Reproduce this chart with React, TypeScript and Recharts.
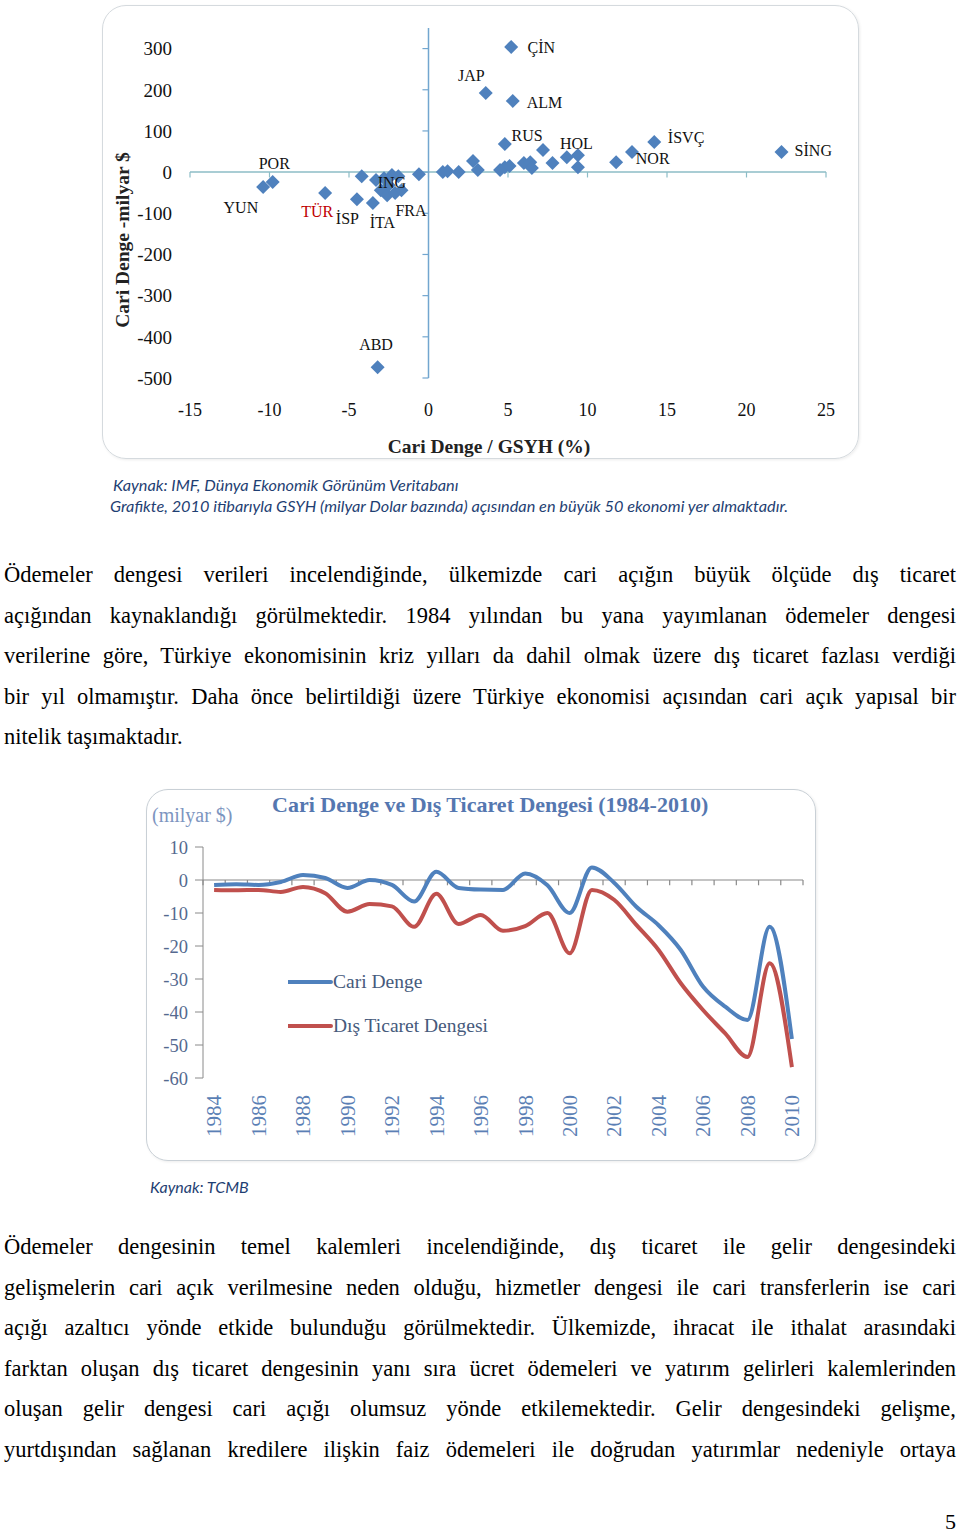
import React from "react";
import {
  ScatterChart,
  Scatter,
  XAxis,
  YAxis,
  ReferenceLine,
  ReferenceDot,
  Label,
  LineChart,
  Line,
  Legend,
} from "recharts";

// --- scatter: 50 largest economies, CA/GDP (%) vs CA (bn $), 2010
const economyX = [
  -10.4, -9.8, -6.5, -4.2, -4.5, -3.5, -3.2, -3.3, -2.8, -2.3, -1.9, -3.0, -2.6, -2.1, -2.5, -1.7, -0.6,
  0.9, 1.2, 1.9, 2.8, 3.1, 3.6, 4.5, 4.8, 4.8, 5.1, 5.2, 5.3, 6.0, 6.4, 6.5, 7.2, 7.8, 8.7, 9.4, 9.4,
  11.8, 12.8, 14.2, 22.2,
];
const economyY = [
  -36, -24, -51, -10, -66, -75, -474, -19, -15, -7, -10, -44, -56, -51, -32, -44, -5,
  0, 2, 0, 27, 5, 192, 5, 12, 68, 15, 304, 173, 22, 24, 10, 54, 22, 36, 41, 12,
  24, 49, 73, 49,
];
const xTicks = [-15, -10, -5, 0, 5, 10, 15, 20, 25];
const yTicks = [-500, -400, -300, -200, -100, 0, 100, 200, 300];

// annotation text, placed in data units
const countryLabels = [
  { name: "ÇİN", x: 7.1, y: 302 },
  { name: "JAP", x: 2.7, y: 234 },
  { name: "ALM", x: 7.3, y: 170 },
  { name: "RUS", x: 6.2, y: 90 },
  { name: "HOL", x: 9.3, y: 71 },
  { name: "İSVÇ", x: 16.2, y: 85 },
  { name: "NOR", x: 14.1, y: 34 },
  { name: "SİNG", x: 24.2, y: 54 },
  { name: "POR", x: -9.7, y: 22 },
  { name: "YUN", x: -11.8, y: -85 },
  { name: "TÜR", x: -7.0, y: -95 },
  { name: "İSP", x: -5.1, y: -112 },
  { name: "İTA", x: -2.9, y: -122 },
  { name: "FRA", x: -1.1, y: -92 },
  { name: "ING", x: -2.3, y: -24 },
  { name: "ABD", x: -3.3, y: -418 },
];

// --- line chart: Turkey, bn $
const years = [
  1984, 1985, 1986, 1987, 1988, 1989, 1990, 1991, 1992, 1993, 1994, 1995, 1996, 1997, 1998, 1999, 2000,
  2001, 2002, 2003, 2004, 2005, 2006, 2007, 2008, 2009, 2010,
];
const cariDenge = [
  -1.5, -1.3, -1.5, -0.6, 1.5, 0.6, -2.4, 0.0, -1.5, -6.5, 2.5, -2.4, -2.9, -3.0, 2.0, -1.6, -10.0,
  3.8, -0.8, -8.1, -13.7, -21.2, -32.3, -38.4, -42.4, -14.2, -48.2,
];
const disTicaret = [
  -3.0, -3.1, -3.0, -3.6, -2.1, -4.0, -9.6, -7.3, -8.0, -14.2, -4.2, -13.3, -10.6, -15.4, -14.0, -10.0, -22.2,
  -3.0, -6.0, -13.6, -21.2, -31.3, -39.4, -46.5, -53.6, -25.2, -56.7,
];
const yearTicks = [1984, 1986, 1988, 1990, 1992, 1994, 1996, 1998, 2000, 2002, 2004, 2006, 2008, 2010];
const lineTicks = [-60, -50, -40, -30, -20, -10, 0, 10];

const serif = "'Liberation Serif', 'Times New Roman', serif";
const sans = "Lato, 'Open Sans', sans-serif";
const BLUE = "#4f81bd";
const RED = "#c0504d";

const para1 = [
  "Ödemeler dengesi verileri incelendiğinde, ülkemizde cari açığın büyük ölçüde dış ticaret",
  "açığından kaynaklandığı görülmektedir. 1984 yılından bu yana yayımlanan ödemeler dengesi",
  "verilerine göre, Türkiye ekonomisinin kriz yılları da dahil olmak üzere dış ticaret fazlası verdiği",
  "bir yıl olmamıştır. Daha önce belirtildiği üzere Türkiye ekonomisi açısından cari açık yapısal bir",
  "nitelik taşımaktadır.",
];
const para2 = [
  "Ödemeler dengesinin temel kalemleri incelendiğinde, dış ticaret ile gelir dengesindeki",
  "gelişmelerin cari açık verilmesine neden olduğu, hizmetler dengesi ile cari transferlerin ise cari",
  "açığı azaltıcı yönde etkide bulunduğu görülmektedir. Ülkemizde, ihracat ile ithalat arasındaki",
  "farktan oluşan dış ticaret dengesinin yanı sıra ücret ödemeleri ve yatırım gelirleri kalemlerinden",
  "oluşan gelir dengesi cari açığı olumsuz yönde etkilemektedir. Gelir dengesindeki gelişme,",
  "yurtdışından sağlanan kredilere ilişkin faiz ödemeleri ile doğrudan yatırımlar nedeniyle ortaya",
];

const Diamond = (props: any) => {
  const { cx, cy } = props;
  const r = 7;
  return <polygon points={`${cx},${cy - r} ${cx + r},${cy} ${cx},${cy + r} ${cx - r},${cy}`} fill={BLUE} />;
};

const YearTick = (props: any) => {
  const { x, y, payload } = props;
  return (
    <text x={x} y={y} transform={`rotate(-90 ${x} ${y})`} textAnchor="end" dy="0.35em" fill="#5b7fb5" fontSize={21} fontFamily={serif}>
      {payload.value}
    </text>
  );
};

const renderLegend = () => (
  <div style={{ fontFamily: serif, fontSize: 19.5, color: "#465a7c" }}>
    {[
      { name: "Cari Denge", color: BLUE },
      { name: "Dış Ticaret Dengesi", color: RED },
    ].map((it) => (
      <div key={it.name} style={{ height: 44, display: "flex", alignItems: "center", whiteSpace: "nowrap" }}>
        <svg width={45} height={8}>
          <line x1={0} y1={4} x2={43} y2={4} stroke={it.color} strokeWidth={4} strokeLinecap="round" />
        </svg>
        <span>{it.name}</span>
      </div>
    ))}
  </div>
);

function Para({ lines, top, justifyLast }: { lines: string[]; top: number; justifyLast: boolean }) {
  return (
    <div style={{ position: "absolute", left: 4, top, width: 952, fontFamily: serif, fontSize: 22.5, lineHeight: "40.6px", color: "#000" }}>
      {lines.map((l, i) => (
        <div key={i} style={{ textAlign: "justify", textAlignLast: i < lines.length - 1 || justifyLast ? "justify" : "left" } as any}>
          {l}
        </div>
      ))}
    </div>
  );
}

export default function App() {
  const points = economyX.map((x, i) => ({ x, y: economyY[i] }));
  const lineData = years.map((year, i) => ({ year, cari: cariDenge[i], dis: disTicaret[i] }));
  const boundaries = [...years.map((y) => y - 0.5), years[years.length - 1] + 0.5];
  const tickFont = { fill: "#111", fontFamily: serif };

  return (
    <div style={{ position: "absolute", left: 0, top: 0, width: 960, height: 1533, background: "#fff", overflow: "hidden" }}>
      {/* scatter frame */}
      <div style={{ position: "absolute", left: 102, top: 5, width: 755, height: 452, border: "1.5px solid #d5dade", borderRadius: 24, boxShadow: "1px 1px 3px rgba(0,0,0,0.08)" }} />
      <div style={{ position: "absolute", left: 101, top: 4 }}>
        <ScatterChart width={760} height={456} margin={{ top: 24, right: 35, bottom: 52, left: 0 }}>
          <XAxis type="number" dataKey="x" domain={[-15, 25]} ticks={xTicks} interval={0} axisLine={false} tickLine={false} tickMargin={19} height={30} tick={{ ...tickFont, fontSize: 18 }}>
            <Label
              content={() => (
                <text x={388} y={442} textAnchor="middle" dominantBaseline="central" fontFamily={serif} fontWeight="bold" fontSize={19.5} fill="#222">
                  Cari Denge / GSYH (%)
                </text>
              )}
            />
          </XAxis>
          <YAxis type="number" dataKey="y" domain={[-500, 350]} ticks={yTicks} interval={0} width={89} axisLine={false} tickLine={false} tickMargin={12} tick={{ ...tickFont, fontSize: 19 }}>
            <Label
              content={() => (
                <text x={21} y={236} transform="rotate(-90 21 236)" textAnchor="middle" dominantBaseline="central" fontFamily={serif} fontWeight="bold" fontSize={19.5} fill="#222">
                  Cari Denge -milyar $
                </text>
              )}
            />
          </YAxis>
          <ReferenceLine segment={[{ x: -15, y: 0 }, { x: 25, y: 0 }]} stroke="#8cbcc6" strokeWidth={1.5} />
          {xTicks.map((v) => (
            <ReferenceLine key={"xt" + v} segment={[{ x: v, y: 0 }, { x: v, y: -13 }]} stroke="#8cbcc6" strokeWidth={1.2} />
          ))}
          <ReferenceLine segment={[{ x: 0, y: -500 }, { x: 0, y: 350 }]} stroke="#72a6cf" strokeWidth={1.5} />
          {yTicks.map((v) => (
            <ReferenceLine key={"yt" + v} segment={[{ x: 0, y: v }, { x: -0.38, y: v }]} stroke="#72a6cf" strokeWidth={1.2} />
          ))}
          <Scatter data={points} shape={<Diamond />} isAnimationActive={false} />
          {countryLabels.map((c) => (
            <ReferenceDot
              key={c.name}
              x={c.x}
              y={c.y}
              r={0}
              fill="none"
              stroke="none"
              ifOverflow="visible"
              label={{ value: c.name, position: "center", fontSize: 16, fontFamily: serif, fill: c.name === "TÜR" ? "#c00000" : "#111" }}
            />
          ))}
        </ScatterChart>
      </div>

      <div style={{ position: "absolute", left: 113, top: 474, fontFamily: sans, fontStyle: "italic", fontSize: 16.3, lineHeight: "21px", color: "#1f3f73", whiteSpace: "nowrap" }}>
        Kaynak: IMF, Dünya Ekonomik Görünüm Veritabanı
        <br />
        <span style={{ marginLeft: -3 }}>Grafikte, 2010 itibarıyla GSYH (milyar Dolar bazında) açısından en büyük 50 ekonomi yer almaktadır.</span>
      </div>

      <Para lines={para1} top={555} justifyLast={false} />

      {/* line chart frame */}
      <div style={{ position: "absolute", left: 146, top: 789, width: 668, height: 370, border: "1.5px solid #c9d0d6", borderRadius: 22, boxShadow: "1px 1px 3px rgba(0,0,0,0.08)" }} />
      <div style={{ position: "absolute", left: 272, top: 792, fontFamily: serif, fontWeight: "bold", fontSize: 22, color: "#5577b0", whiteSpace: "nowrap" }}>
        Cari Denge ve Dış Ticaret Dengesi (1984-2010)
      </div>
      <div style={{ position: "absolute", left: 152, top: 804, fontFamily: serif, fontSize: 20, color: "#7d95c0", whiteSpace: "nowrap" }}>(milyar $)</div>
      <div style={{ position: "absolute", left: 146, top: 789 }}>
        <LineChart width={670} height={372} data={lineData} margin={{ top: 58, right: 13, bottom: 0, left: 0 }}>
          <XAxis type="number" dataKey="year" domain={[1983.5, 2010.5]} ticks={yearTicks} interval={0} axisLine={false} tickLine={false} tickMargin={11} height={83} tick={<YearTick />} />
          <YAxis
            domain={[-60, 10]}
            ticks={lineTicks}
            interval={0}
            width={57}
            axisLine={{ stroke: "#8a8a8a" }}
            tickLine={{ stroke: "#8a8a8a" }}
            tickSize={8}
            tickMargin={7}
            tick={{ fill: "#55698f", fontSize: 18.5, fontFamily: serif }}
          />
          <ReferenceLine y={0} stroke="#8a8a8a" strokeWidth={1.2} />
          {boundaries.map((b) => (
            <ReferenceLine key={"b" + b} segment={[{ x: b, y: 0 }, { x: b, y: -1.6 }]} stroke="#8a8a8a" strokeWidth={1.2} />
          ))}
          <Line dataKey="cari" name="Cari Denge" type="monotone" stroke={BLUE} strokeWidth={4} dot={false} isAnimationActive={false} />
          <Line dataKey="dis" name="Dış Ticaret Dengesi" type="monotone" stroke={RED} strokeWidth={4} dot={false} isAnimationActive={false} />
          <Legend layout="vertical" align="center" verticalAlign="middle" content={renderLegend} wrapperStyle={{ left: 142, top: 171, width: 260, height: 88 }} />
        </LineChart>
      </div>
      <div style={{ position: "absolute", left: 150, top: 1177, fontFamily: sans, fontStyle: "italic", fontSize: 16, color: "#1f3f73" }}>Kaynak: TCMB</div>

      <Para lines={para2} top={1227} justifyLast={true} />

      <div style={{ position: "absolute", right: 4, top: 1509, fontFamily: serif, fontSize: 22 }}>5</div>
    </div>
  );
}
